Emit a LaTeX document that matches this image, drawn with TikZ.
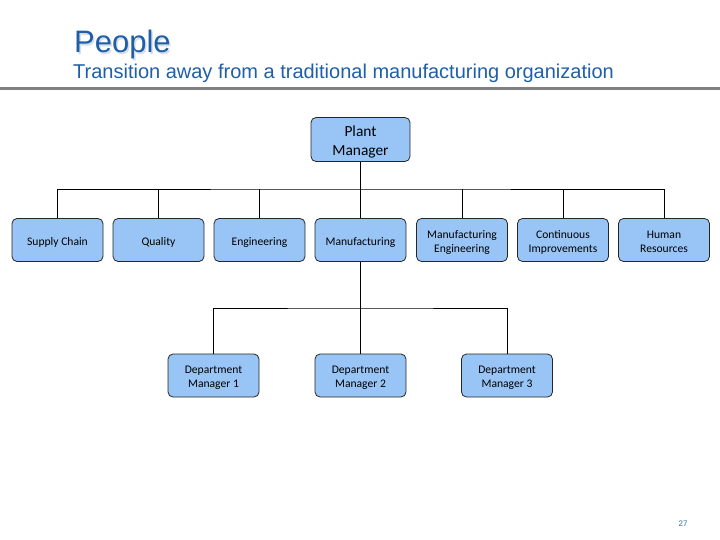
\documentclass[tikz,border=0pt]{standalone}
\usepackage{fontspec}
\setmainfont{Liberation Sans}
\newfontfamily\boxfont{Carlito}
\definecolor{titleblue}{RGB}{31,94,168}
\definecolor{shadowcol}{RGB}{215,222,232}
\definecolor{boxfill}{RGB}{153,196,246}
\definecolor{rulegray}{RGB}{128,128,128}
\definecolor{pagenum}{RGB}{46,110,170}
\newcommand\bxtext[1]{\begin{tabular}{@{}c@{}}\rule{0pt}{1.25em}#1\strut\end{tabular}}
\begin{document}
\begin{tikzpicture}[x=1pt,y=-1pt,
  orgbox/.style={draw=black!85, line width=0.8pt, fill=boxfill, rounded corners=5pt,
    minimum width=91pt, minimum height=43pt, inner sep=0pt,
    font=\boxfont\fontsize{11.6}{14}\selectfont},
  bigbox/.style={orgbox, minimum width=99pt, font=\boxfont\fontsize{15.4}{19}\selectfont},
  link/.style={draw=black, line width=0.8pt}]
\useasboundingbox (0,0) rectangle (720,540);
% title
\node (shadow) [anchor=base west, text=shadowcol, inner sep=0pt, font=\fontsize{31}{34}\selectfont] at (75.5,54.5) {People};
\node (title) [anchor=base west, text=titleblue, inner sep=0pt, font=\fontsize{31}{34}\selectfont] at (74,53) {People};
\node (sub) [anchor=base west, text=titleblue, inner sep=0pt, font=\fontsize{20}{23}\selectfont] at (73,79) {Transition away from a traditional manufacturing organization};
\draw[rulegray, line width=3pt] (0,89) -- (720,89);
% boxes
\node (pm) [bigbox] at (360.5,139.5) {\bxtext{Plant\\Manager}};
\node (sc) [orgbox] at (57.5,240) {\bxtext{Supply Chain}};
\node (q)  [orgbox] at (158.5,240) {\bxtext{Quality}};
\node (en) [orgbox] at (259.5,240) {\bxtext{Engineering}};
\node (mf) [orgbox] at (360.5,240) {\bxtext{Manufacturing}};
\node (me) [orgbox] at (462,240) {\bxtext{Manufacturing\\Engineering}};
\node (ci) [orgbox] at (563,240) {\bxtext{Continuous\\Improvements}};
\node (hr) [orgbox] at (664,240) {\bxtext{Human\\Resources}};
\node (d1) [orgbox] at (213.5,375.5) {\bxtext{Department\\Manager 1}};
\node (d2) [orgbox] at (360.5,375.5) {\bxtext{Department\\Manager 2}};
\node (d3) [orgbox] at (507,375.5) {\bxtext{Department\\Manager 3}};
% connectors
\coordinate (bus1) at (360.5,189);
\coordinate (bus2) at (360.5,308);
\draw[link] (pm.south) -- (mf.north);
\draw[link] (sc.north) |- (bus1) -| (hr.north);
\foreach \n in {q,en,me,ci} \draw[link] (\n.north) -- (\n.north |- bus1);
\draw[link] (mf.south) -- (bus2);
\draw[link] (d1.north) |- (bus2) -| (d3.north);
\draw[link] (d2.north) -- (bus2);
% page number
\node (pg) [text=pagenum, font=\fontsize{8}{9}\selectfont, inner sep=0pt] at (683,524) {27};
\end{tikzpicture}
\end{document}
